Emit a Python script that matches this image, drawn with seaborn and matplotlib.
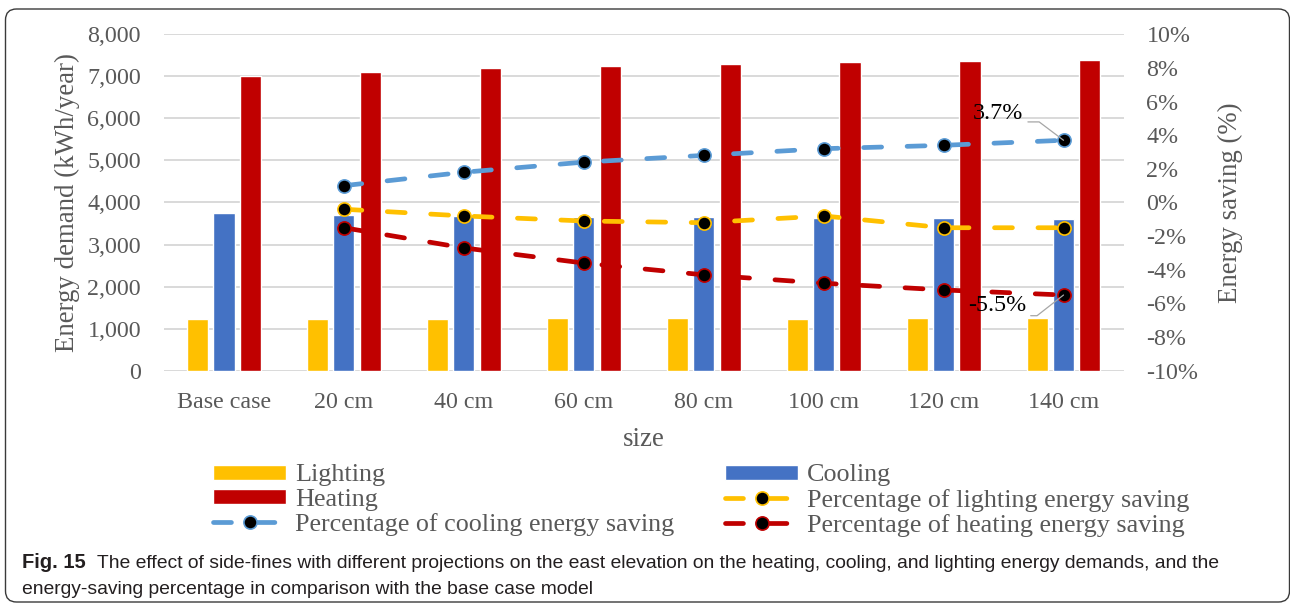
import numpy as np
import pandas as pd
import seaborn as sns
import matplotlib
matplotlib.use("Agg")
import matplotlib.pyplot as plt
from matplotlib.patches import Patch, FancyBboxPatch
from matplotlib.ticker import FuncFormatter, MultipleLocator
from matplotlib.transforms import IdentityTransform

# ---- data -------------------------------------------------------------
sizes = ["Base case", "20 cm", "40 cm", "60 cm", "80 cm", "100 cm", "120 cm", "140 cm"]
lighting = [1230, 1235, 1240, 1243, 1245, 1240, 1248, 1249]
cooling = [3750, 3713, 3684, 3660, 3645, 3630, 3622, 3611]
heating = [7000, 7108, 7192, 7251, 7305, 7335, 7365, 7385]

# energy-saving percentages relative to the base case (20 cm ... 140 cm)
saving_sizes = sizes[1:]
saving_lighting = [-0.4, -0.8, -1.1, -1.2, -0.8, -1.5, -1.5]
saving_cooling = [1.0, 1.8, 2.4, 2.8, 3.2, 3.4, 3.7]
saving_heating = [-1.5, -2.7, -3.6, -4.3, -4.8, -5.2, -5.5]

# ---- style ------------------------------------------------------------
sns.set_style("white")
plt.rcParams["font.family"] = ["Liberation Serif", "DejaVu Serif"]

C_LIGHT = "#FFC000"
C_COOL = "#4472C4"
C_HEAT = "#C00000"
C_COOL_LINE = "#5B9BD5"
GREY_TXT = "#595959"
GRID = "#D9D9D9"

W, H = 1290, 605
fig = plt.figure(figsize=(W / 100, H / 100), dpi=100)
ax = fig.add_axes([164 / W, 1 - 370.7 / H, (1123.5 - 164) / W, (370.7 - 34.3) / H])

df = pd.DataFrame({
    "size": sizes * 3,
    "type": ["Lighting"] * 8 + ["Cooling"] * 8 + ["Heating"] * 8,
    "value": lighting + cooling + heating,
})
sns.barplot(data=df, x="size", y="value", hue="type",
            hue_order=["Lighting", "Cooling", "Heating"],
            palette={"Lighting": C_LIGHT, "Cooling": C_COOL, "Heating": C_HEAT},
            saturation=1, width=0.66, gap=0.2, errorbar=None, legend=False, ax=ax)

ax.set_xlim(-0.5, len(sizes) - 0.5)
ax.set_ylim(0, 8000)
ax.yaxis.set_major_locator(MultipleLocator(1000))
ax.yaxis.set_major_formatter(FuncFormatter(lambda v, p: f"{v:,.0f}"))
ax.set_axisbelow(True)
ax.grid(axis="y", color=GRID, linewidth=1.4)
ax.grid(axis="x", visible=False)
for s in ax.spines.values():
    s.set_visible(False)
ax.tick_params(axis="both", length=0, labelsize=17.3, labelcolor=GREY_TXT)
ax.tick_params(axis="y", pad=16.5)
ax.tick_params(axis="x", pad=15)
ax.set_xlabel("size", fontsize=19.4, color=GREY_TXT)
ax.set_ylabel("Energy demand (kWh/year)", fontsize=19.4, color=GREY_TXT)
ax.yaxis.label.set_va("center")
ax.yaxis.set_label_coords((67 - 164) / (1123.5 - 164), 0.5)
ax.xaxis.label.set_va("center")
ax.xaxis.set_label_coords(0.5, -(439 - 370.7) / (370.7 - 34.3))

# ---- saving percentages on secondary axis -----------------------------
ax2 = ax.twinx()
ax2.set_ylim(-10, 10)
ax2.yaxis.set_major_locator(MultipleLocator(2))
ax2.yaxis.set_major_formatter(FuncFormatter(lambda v, p: f"{v:.0f}%"))
for s in ax2.spines.values():
    s.set_visible(False)
ax2.tick_params(axis="y", length=0, labelsize=17.3, labelcolor=GREY_TXT, pad=16.5)
ax2.set_ylabel("Energy saving (%)", fontsize=19.4, color=GREY_TXT, rotation=90)
ax2.yaxis.label.set_va("center")
ax2.yaxis.set_label_coords((1230 - 164) / (1123.5 - 164), 0.5)

xpos = [sizes.index(s) for s in saving_sizes]
line_kw = dict(linewidth=3.4, dashes=(3.8, 5.4), dash_capstyle="round",
               marker="o", markersize=9.5, markerfacecolor="black",
               markeredgewidth=1.2)
series = [
    ("Percentage of lighting energy saving", saving_lighting, C_LIGHT),
    ("Percentage of cooling energy saving", saving_cooling, C_COOL_LINE),
    ("Percentage of heating energy saving", saving_heating, C_HEAT),
]
line_handles = {}
for name, vals, col in series:
    (ln,) = ax2.plot(xpos, vals, color=col, markeredgecolor=col, **line_kw)
    line_handles[name] = ln

# value labels on the last points
leader = dict(arrowstyle="-", color="#A6A6A6", lw=0.9, shrinkA=1, shrinkB=0)
ax2.annotate(f"{saving_cooling[-1]:.1f}%", xy=(xpos[-1], saving_cooling[-1]),
             xytext=(-29, 15.3), textcoords="offset points",
             ha="right", va="baseline", fontsize=17.3, color="black",
             arrowprops=dict(**leader, relpos=(1, 0.1),
                             connectionstyle="angle,angleA=0,angleB=143,rad=0"))
ax2.annotate(f"{saving_heating[-1]:.1f}%", xy=(xpos[-1], saving_heating[-1]),
             xytext=(-27, -11.3), textcoords="offset points",
             ha="right", va="baseline", fontsize=17.3, color="black",
             arrowprops=dict(**leader, relpos=(1, 0),
                             connectionstyle="angle,angleA=0,angleB=38,rad=0"))

# ---- legend -------------------------------------------------------------
h_light = Patch(facecolor=C_LIGHT, label="Lighting")
h_cool = Patch(facecolor=C_COOL, label="Cooling")
h_heat = Patch(facecolor=C_HEAT, label="Heating")
handles = [h_light, h_heat, line_handles["Percentage of cooling energy saving"],
           h_cool, line_handles["Percentage of lighting energy saving"],
           line_handles["Percentage of heating energy saving"]]
labels = ["Lighting", "Heating", "Percentage of cooling energy saving",
          "Cooling", "Percentage of lighting energy saving",
          "Percentage of heating energy saving"]
leg = fig.legend(handles, labels, ncol=2, loc="upper left",
                 bbox_to_anchor=(213 / W, 1 - 464.5 / H), frameon=False,
                 fontsize=18.8, labelcolor=GREY_TXT, borderpad=0,
                 borderaxespad=0, handlelength=2.8, handleheight=0.49,
                 handletextpad=0.34, columnspacing=1.95, labelspacing=0.08,
                 numpoints=1)

# ---- caption ------------------------------------------------------------
cap_font = ["Liberation Sans", "DejaVu Sans"]
cap_col = "#231F20"
cap_size = 13.9
fig.text(22 / W, 1 - 567.7 / H, "Fig. 15", family=cap_font, weight="bold",
         fontsize=cap_size + 0.6, color=cap_col, va="baseline", ha="left")
fig.text(96.7 / W, 1 - 567.7 / H,
         "The effect of side-fines with different projections on the east elevation on "
         "the heating, cooling, and lighting energy demands, and the",
         family=cap_font, fontsize=cap_size, color=cap_col, va="baseline", ha="left")
fig.text(22 / W, 1 - 594.5 / H,
         "energy-saving percentage in comparison with the base case model",
         family=cap_font, fontsize=cap_size, color=cap_col, va="baseline", ha="left")

# ---- rounded frame -------------------------------------------------------
frame = FancyBboxPatch((5.5, H - 602), 1284, 593,
                       boxstyle="round,pad=0,rounding_size=11",
                       transform=IdentityTransform(), facecolor="none",
                       edgecolor="#3A3A3A", linewidth=1.0)
fig.patches.append(frame)

fig.savefig("out.png", dpi=100)
